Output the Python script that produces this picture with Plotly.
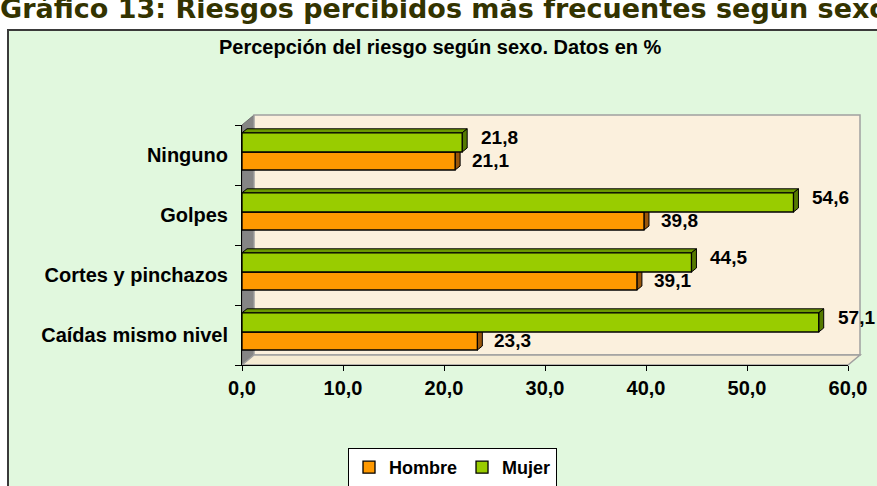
import plotly.graph_objects as go

categorias = ["Ninguno", "Golpes", "Cortes y pinchazos", "Caídas mismo nivel"]
hombre = [21.1, 39.8, 39.1, 23.3]
mujer = [21.8, 54.6, 44.5, 57.1]
ticks_x = [0, 10, 20, 30, 40, 50, 60]

titulo = "Gráfico 13: Riesgos percibidos más frecuentes según sexo"
subtitulo = "Percepción del riesgo según sexo. Datos en %"

W, H = 877, 486
L, R, T, B = 242, 29, 125, 121
PW, PH = W - L - R, H - T - B
XMAX = 60

def px(x):
    return (x - L) / PW

def py(y):
    return (H - B - y) / PH

# category positions: first item on top
pos = [len(categorias) - 1 - i for i in range(len(categorias))]
pos_h = [p - 0.10 for p in pos]
pos_m = [p + 0.21 for p in pos]
w_h, w_m = 0.30, 0.32

verde, naranja = "#99cc00", "#ff9900"
fnt = "Liberation Sans, Arial, sans-serif"

fig = go.Figure()
fig.add_bar(y=pos_h, x=hombre, orientation="h", name="Hombre", width=w_h,
            marker=dict(color=naranja, line=dict(color="black", width=1.3)))
fig.add_bar(y=pos_m, x=mujer, orientation="h", name="Mujer", width=w_m,
            marker=dict(color=verde, line=dict(color="black", width=1.3)))

shapes = []
# chart frame
shapes.append(dict(type="rect", xref="paper", yref="paper", layer="below",
                   x0=px(8), x1=px(W + 10), y0=py(30), y1=py(H + 10),
                   fillcolor="#e1f8de", line=dict(color="#3a3a3a", width=2)))
# 3D walls
d = 12
shapes.append(dict(type="path", xref="paper", yref="paper", layer="below",
                   path=f"M {px(L)},{py(T)} L {px(L+d)},{py(T-d+2)} L {px(L+d)},{py(H-B-d+2)} L {px(L)},{py(H-B)} Z",
                   fillcolor="#858585", line=dict(color="#707070", width=1)))
shapes.append(dict(type="rect", xref="paper", yref="paper", layer="below",
                   x0=px(L+d), x1=px(W-R+d), y0=py(H-B-d+2), y1=py(T-d+2),
                   fillcolor="#fbf0dd", line=dict(color="#a0a0a0", width=1.5)))
shapes.append(dict(type="path", xref="paper", yref="paper", layer="below",
                   path=f"M {px(L)},{py(H-B)} L {px(W-R)},{py(H-B)} L {px(W-R+d)},{py(H-B-d+2)} L {px(L+d)},{py(H-B-d+2)} Z",
                   fillcolor="#f5ebd3", line=dict(color="#a0a0a0", width=1.5)))

# 3D faces of the bars (drawn under the front faces)
ddx = 5 / (PW / XMAX)
ddy = 4 / (PH / len(categorias))
for vals, ys, w, top_c, side_c, top in [(hombre, pos_h, w_h, "#b36b00", "#99560a", False),
                                        (mujer, pos_m, w_m, "#6b9900", "#557a00", True)]:
    for v, yc in zip(vals, ys):
        y0, y1 = yc - w / 2, yc + w / 2
        if top:
            shapes.append(dict(type="path", xref="x", yref="y", layer="below",
                               path=f"M 0,{y1} L {v},{y1} L {v+ddx},{y1+ddy} L {ddx},{y1+ddy} Z",
                               fillcolor=top_c, line=dict(color="black", width=1)))
        shapes.append(dict(type="path", xref="x", yref="y", layer="below",
                           path=f"M {v},{y0} L {v},{y1} L {v+ddx},{y1+ddy} L {v+ddx},{y0+ddy} Z",
                           fillcolor=side_c, line=dict(color="black", width=1)))

lab_font = dict(family=fnt, size=19, color="black", weight="bold")
ann = []
for v, yc in zip(hombre, pos_h):
    ann.append(dict(x=v, y=yc, xref="x", yref="y", text=f"{v:.1f}".replace(".", ","),
                    showarrow=False, xanchor="left", xshift=15, yshift=1, font=lab_font))
for v, yc in zip(mujer, pos_m):
    ann.append(dict(x=v, y=yc, xref="x", yref="y", text=f"{v:.1f}".replace(".", ","),
                    showarrow=False, xanchor="left", xshift=17, yshift=5, font=lab_font))
ann.append(dict(x=px(-2), y=py(26), xref="paper", yref="paper", text=titulo,
                showarrow=False, xanchor="left", yanchor="bottom",
                font=dict(family="DejaVu Sans, Verdana, sans-serif", size=27,
                          color="#333300", weight="bold")))
ann.append(dict(x=px(440), y=py(47), xref="paper", yref="paper", text=subtitulo,
                showarrow=False, xanchor="center", yanchor="middle",
                font=dict(family=fnt, size=20, color="black", weight="bold")))

fig.update_layout(
    width=W, height=H,
    margin=dict(l=L, r=R, t=T, b=B, autoexpand=False),
    paper_bgcolor="white", plot_bgcolor="rgba(0,0,0,0)",
    separators=",.",
    barmode="overlay",
    shapes=shapes, annotations=ann,
    font=dict(family=fnt, size=19, color="black"),
    legend=dict(orientation="h", x=px(348), y=py(448), xanchor="left", yanchor="top",
                bgcolor="white", bordercolor="black", borderwidth=1,
                itemwidth=30, font=dict(family=fnt, size=18, color="black", weight="bold")),
    xaxis=dict(range=[0, XMAX], tickvals=ticks_x, tickformat=".1f",
               showline=True, linecolor="black", linewidth=1,
               ticks="outside", ticklen=5, tickcolor="black",
               showgrid=False, zeroline=False,
               tickfont=dict(family=fnt, size=20, color="black", weight="bold")),
    yaxis=dict(range=[-0.5, len(categorias) - 0.5], tickvals=pos, ticktext=categorias,
               showline=True, linecolor="black", linewidth=1,
               ticks="", showgrid=False, zeroline=False, ticklabelstandoff=9,
               minor=dict(tickvals=[p - 0.5 for p in range(len(categorias) + 1)],
                          ticks="outside", ticklen=6, tickcolor="black"),
               tickfont=dict(family=fnt, size=20, color="black", weight="bold")),
    showlegend=True,
)

fig.write_html("out.html", config={"displayModeBar": False},
               post_script="document.body.style.margin='0';")
